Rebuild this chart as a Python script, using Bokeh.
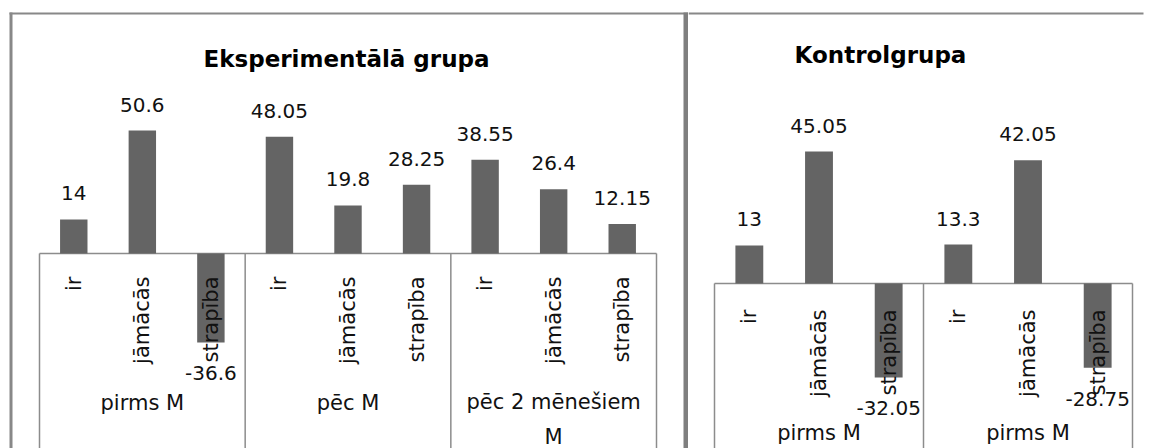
import numpy as np
from bokeh.plotting import figure
from bokeh.models import Range1d, ColumnDataSource
from bokeh.layouts import row
from bokeh.embed import file_html
from bokeh.resources import INLINE
from bokeh.core.properties import value

# ---------------- data ----------------
exp_title = "Eksperimentālā grupa"
exp_groups = ["pirms M", "pēc M", "pēc 2 mēnešiem\nM"]
exp_categories = ["ir", "jāmācās", "strapība",
                  "ir", "jāmācās", "strapība",
                  "ir", "jāmācās", "strapība"]
exp_values = [14, 50.6, -36.6, 48.05, 19.8, 28.25, 38.55, 26.4, 12.15]

ctrl_title = "Kontrolgrupa"
ctrl_groups = ["pirms M", "pirms M"]
ctrl_categories = ["ir", "jāmācās", "strapība",
                   "ir", "jāmācās", "strapība"]
ctrl_values = [13, 45.05, -32.05, 13.3, 42.05, -28.75]

# ---------------- style ----------------
BAR = "#646464"
LINE = "#8c8c8c"
BORDER = "#888888"
SEP = "#7f7f7f"
TXT = "#111111"
FONT = "DejaVu Sans"
H = 448


def panel(title, groups, cats, vals, width, plot_left, plot_right, zero_px, ppu,
          cat_off, title_cx, title_cy, left_border, separator, top_line_end):
    n = len(vals)
    ppx = (plot_right - plot_left) / n
    xs0 = -plot_left / ppx
    xs1 = n + (width - plot_right) / ppx
    ys1 = zero_px / ppu
    ys0 = -(H - zero_px) / ppu

    def px_x(cx):
        return xs0 + cx / ppx

    def px_y(cy):
        return ys1 - cy / ppu

    p = figure(width=width, height=H, x_range=Range1d(xs0, xs1), y_range=Range1d(ys0, ys1),
               output_backend="svg", toolbar_location=None,
               x_axis_location=None, y_axis_location=None,
               min_border_left=0, min_border_right=0, min_border_top=0, min_border_bottom=0)
    p.grid.visible = False
    p.outline_line_color = None
    p.background_fill_color = "white"
    p.border_fill_color = "white"

    # panel border lines
    x_start = 9 if left_border else 0
    p.segment(x0=[px_x(x_start)], y0=[px_y(13)], x1=[px_x(top_line_end)], y1=[px_y(13)],
              line_color=BORDER, line_width=2)
    if left_border:
        p.segment(x0=[px_x(10.5)], y0=[px_y(12)], x1=[px_x(10.5)], y1=[px_y(H + 10)],
                  line_color=BORDER, line_width=3)
    if separator:
        p.segment(x0=[px_x(width - 2.5)], y0=[px_y(12)], x1=[px_x(width - 2.5)], y1=[px_y(H + 10)],
                  line_color=SEP, line_width=5)

    xs = [i + 0.5 for i in range(n)]
    per = n // len(groups)
    bx = [g * per for g in range(len(groups) + 1)]

    # category/group box
    p.segment(x0=[0], y0=[0], x1=[n], y1=[0], line_color=LINE, line_width=1.5)
    p.segment(x0=bx, y0=[0] * len(bx), x1=bx, y1=[ys0 - 5] * len(bx),
              line_color=LINE, line_width=1.5)

    src = ColumnDataSource(dict(
        x=xs, v=vals, cat=cats,
        lab=[f"{v:g}" for v in vals],
        off=[-26 if v >= 0 else 31 for v in vals],
    ))
    p.vbar(x="x", top="v", bottom=0, width=0.4, source=src, fill_color=BAR, line_color=None)

    # value labels
    p.text(x="x", y="v", text="lab", source=src, text_align="center",
           text_baseline="alphabetic", y_offset="off",
           text_font=value(FONT), text_font_size="20px", text_color=TXT)

    # category labels (rotated)
    p.text(x="x", y=0, text="cat", source=src, angle=np.pi / 2,
           text_align="right", text_baseline="middle", y_offset=cat_off,
           text_font=value(FONT), text_font_size="21px", text_color=TXT)

    # group labels
    gx = [g * per + per / 2 for g in range(len(groups))]
    goff = [149 if "\n" not in g else 166 for g in groups]
    gsrc = ColumnDataSource(dict(x=gx, y=[0] * len(gx), t=groups, off=goff))
    p.text(x="x", y="y", text="t", source=gsrc, text_align="center",
           text_baseline="alphabetic", y_offset="off", text_line_height=1.45,
           text_font=value(FONT), text_font_size="21px", text_color=TXT)

    # title
    p.text(x=[px_x(title_cx)], y=[px_y(title_cy)], text=[title], text_align="center",
           text_baseline="alphabetic", text_font=value(FONT), text_font_style="bold",
           text_font_size="23px", text_color="#000000")
    return p


p1 = panel(exp_title, exp_groups, exp_categories, exp_values, width=688,
           plot_left=39, plot_right=656, zero_px=253, ppu=2.43, cat_off=23,
           title_cx=346, title_cy=58, left_border=True, separator=True, top_line_end=688)
p2 = panel(ctrl_title, ctrl_groups, ctrl_categories, ctrl_values, width=461,
           plot_left=26, plot_right=444, zero_px=283, ppu=2.93, cat_off=26,
           title_cx=192, title_cy=54, left_border=False, separator=False, top_line_end=455)

layout = row(p1, p2, spacing=0)
open("out.html", "w").write(file_html(layout, INLINE))
